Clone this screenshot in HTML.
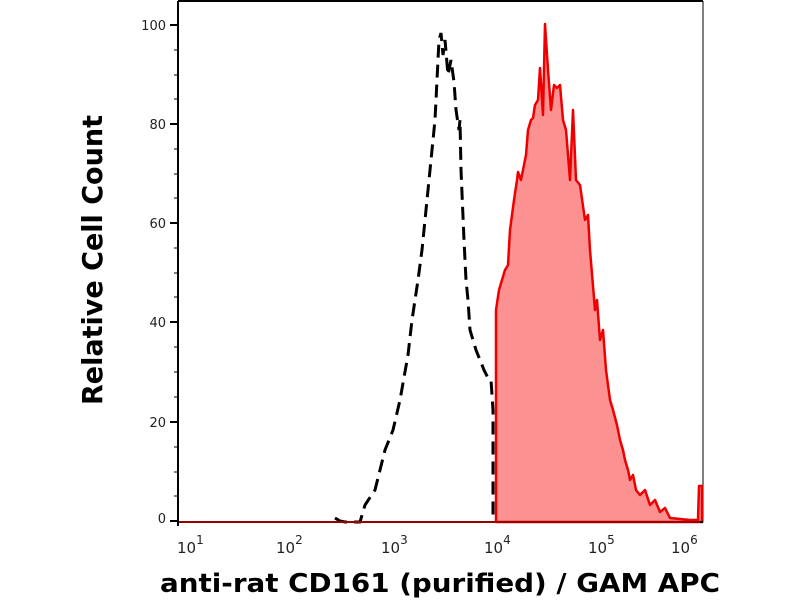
<!DOCTYPE html>
<html><head><meta charset="utf-8"><style>body{margin:0;background:#fff}svg{display:block}</style></head><body>
<svg width="800" height="600" viewBox="0 0 800 600" xmlns="http://www.w3.org/2000/svg" font-family="'DejaVu Sans','Liberation Sans',sans-serif">
<line x1="178" y1="1" x2="703" y2="1" stroke="#000" stroke-width="2"/>
<line x1="703" y1="1" x2="703" y2="522" stroke="#000" stroke-width="1"/>
<path d="M496,522 L496,310 499,290 505,270 508,265 510,230 514,200 517,180 518,172 521,180 524,165 526,155 528,130 531,120 533,118 535,105 538,100 540,68 543,115 545,24 548,70 551,110 554,85 557,88 560,85 563,120 566,130 570,180 573,110 576,180 580,185 585,220 588,215 590,250 595,310 597,300 600,340 603,330 606,370 610,400 613,410 617,425 620,440 623,450 625,460 628,470 630,480 633,475 636,490 640,495 645,490 650,505 655,500 660,512 665,508 670,518 690,520 698,520 699,486 702,486 702,522 Z" fill="#fb9191" stroke="#e00" stroke-width="2.5" stroke-linejoin="round"/>
<path d="M335,518 L340,521 345,522 360,522 365,505 375,490 385,450 393,430 400,400 408,355 412,320 418,280 422,250 428,190 432,150 435,120 437,80 439,40 441,33 443,55 445,40 448,75 451,60 454,82 456,110 459,130 460,120 461,170 464,240 466,280 468,300 470,330 476,350 480,360 484,370 488,378 491,380 493,410 493,522" fill="none" stroke="#000" stroke-width="3" stroke-dasharray="13,7"/>
<line x1="178" y1="522" x2="703" y2="522" stroke="#000" stroke-width="2"/>
<line x1="178" y1="522" x2="700" y2="522" stroke="#c00" stroke-width="1.5"/>
<line x1="178" y1="1" x2="178" y2="526" stroke="#000" stroke-width="2"/>
<g stroke="#000" stroke-width="2">
<line x1="170" y1="25" x2="178" y2="25"/><line x1="170" y1="124" x2="178" y2="124"/><line x1="170" y1="223" x2="178" y2="223"/><line x1="170" y1="322" x2="178" y2="322"/><line x1="170" y1="422" x2="178" y2="422"/><line x1="170" y1="521" x2="178" y2="521"/>
</g>
<g stroke="#000" stroke-width="1">
<line x1="174" y1="50" x2="178" y2="50"/><line x1="174" y1="75" x2="178" y2="75"/><line x1="174" y1="99" x2="178" y2="99"/>
<line x1="174" y1="149" x2="178" y2="149"/><line x1="174" y1="174" x2="178" y2="174"/><line x1="174" y1="198" x2="178" y2="198"/>
<line x1="174" y1="248" x2="178" y2="248"/><line x1="174" y1="273" x2="178" y2="273"/><line x1="174" y1="297" x2="178" y2="297"/>
<line x1="174" y1="347" x2="178" y2="347"/><line x1="174" y1="372" x2="178" y2="372"/><line x1="174" y1="397" x2="178" y2="397"/>
<line x1="174" y1="447" x2="178" y2="447"/><line x1="174" y1="472" x2="178" y2="472"/><line x1="174" y1="496" x2="178" y2="496"/>
</g>
<g font-size="13" text-anchor="end" fill="#222">
<text x="166" y="30">100</text><text x="166" y="129">80</text><text x="166" y="228">60</text><text x="166" y="327">40</text><text x="166" y="427">20</text><text x="166" y="523">0</text>
</g>
<g id="xt" stroke="#000"></g>
<g font-size="15" fill="#222">
<text x="177" y="553">10<tspan dy="-9" font-size="12">1</tspan></text>
<text x="276" y="553">10<tspan dy="-9" font-size="12">2</tspan></text>
<text x="381" y="553">10<tspan dy="-9" font-size="12">3</tspan></text>
<text x="484" y="553">10<tspan dy="-9" font-size="12">4</tspan></text>
<text x="588" y="553">10<tspan dy="-9" font-size="12">5</tspan></text>
<text x="671" y="553">10<tspan dy="-9" font-size="12">6</tspan></text>
</g>
<text x="160" y="592" font-weight="bold" font-size="26" textLength="560" lengthAdjust="spacingAndGlyphs">anti-rat CD161 (purified) / GAM APC</text>
<text transform="translate(102,405) rotate(-90)" font-weight="bold" font-size="28" textLength="290" lengthAdjust="spacingAndGlyphs">Relative Cell Count</text>
<script>
var g=document.getElementById('xt'),p=[179,282,387,494,599,702],s='';
for(var i=0;i<6;i++){s+='<line x1="'+p[i]+'" y1="522" x2="'+p[i]+'" y2="531" stroke-width="2"/>';
if(i<5)for(var k=2;k<10;k++){var x=p[i]+(p[i+1]-p[i])*Math.log10(k);s+='<line x1="'+x+'" y1="522" x2="'+x+'" y2="527" stroke-width="1"/>';}}
g.innerHTML=s;
</script>
</svg>
</body></html>
